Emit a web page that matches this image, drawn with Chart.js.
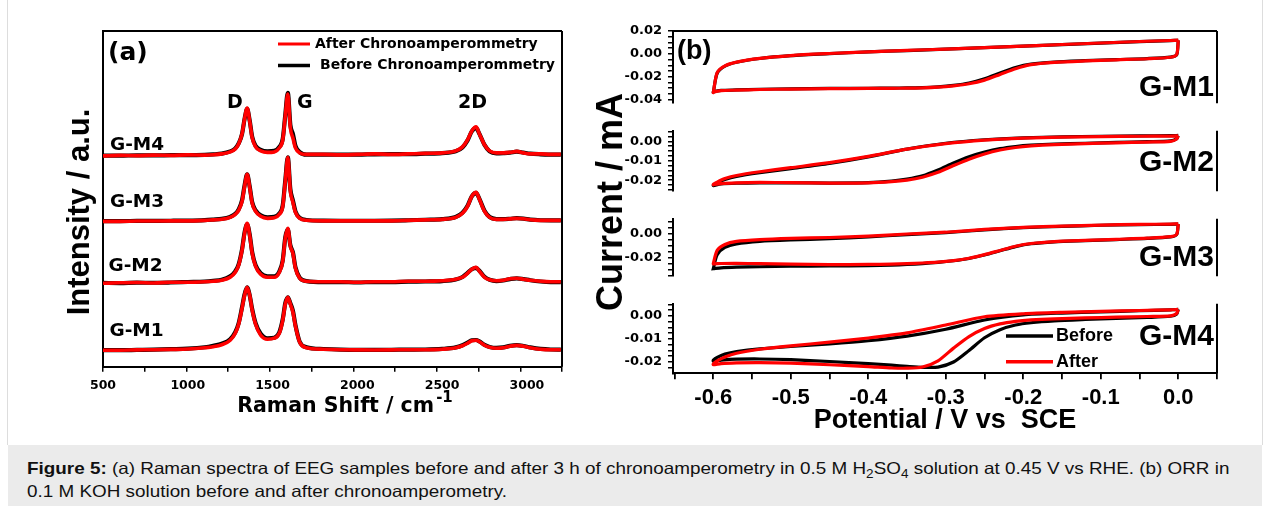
<!DOCTYPE html>
<html>
<head>
<meta charset="utf-8">
<script src="https://cdn.jsdelivr.net/npm/chart.js@4.4.0/dist/chart.umd.min.js"></script>
<style>
  html, body { margin: 0; padding: 0; background: #fff; }
  #fig { position: relative; width: 1270px; height: 506px; overflow: hidden; font-family: 'Liberation Sans', Arial, sans-serif; }
  #fig canvas { position: absolute; }
  #frame { position: absolute; left: 7px; top: 0; width: 1254px; height: 445px; border-left: 1px solid #ddd; border-right: 1px solid #ddd; }
  #ylabB { position: absolute; left: 610px; top: 202px; transform: translate(-50%, -50%) rotate(-90deg); font-weight: bold; font-size: 36px; line-height: 1; white-space: nowrap; color: #000; }
  #caption { position: absolute; left: 8px; top: 445px; width: 1254px; height: 70px; background: #ebebeb; }
  .capline { position: absolute; left: 19px; white-space: nowrap; font-size: 16.5px; line-height: 20px; color: #111; transform-origin: 0 50%; }
  .capline sub { font-size: 0.72em; line-height: 0; }
</style>
</head>
<body>
<div id="fig">
  <div id="frame"></div>
  <canvas id="ramanChart" width="590" height="440" style="left:0;top:0"></canvas>
  <canvas id="cv1" width="650" height="117" style="left:590px;top:0"></canvas>
  <canvas id="cv2" width="650" height="88" style="left:590px;top:117px"></canvas>
  <canvas id="cv3" width="650" height="85" style="left:590px;top:205px"></canvas>
  <canvas id="cv4" width="650" height="150" style="left:590px;top:290px"></canvas>
  <div id="ylabB">Current / mA</div>
  <div id="caption">
    <div class="capline" id="cap1" style="top:13px"><b>Figure 5:</b> (a) Raman spectra of EEG samples before and after 3 h of chronoamperometry in 0.5 M H<sub>2</sub>SO<sub>4</sub> solution at 0.45 V vs RHE. (b) ORR in</div>
    <div class="capline" id="cap2" style="top:36px">0.1 M KOH solution before and after chronoamperometry.</div>
  </div>
</div>

<script>
// ---------- Raman data (panel a), intensity above each trace's baseline ----------
const ramanShift = [500, 600, 700, 800, 900, 1000, 1100, 1150, 1200, 1250, 1280, 1300, 1320, 1335, 1350, 1365, 1380, 1400, 1430, 1470,
    1510, 1540, 1560, 1575, 1590, 1605, 1620, 1635, 1660, 1700, 1800, 1900, 2000, 2100, 2200, 2300, 2400, 2500, 2580, 2620,
    2650, 2675, 2700, 2720, 2750, 2780, 2820, 2860, 2900, 2940, 2980, 3020, 3080, 3140, 3200];

// tick labels of the Raman shift axis
const ramanTickLabels = [500, 1000, 1500, 2000, 2500, 3000];

const gm1RamanAfter = [0, 0, 0.3, 0.5, 0.8, 1.2, 2.5, 3.5, 5.5, 10, 17, 26, 42, 55, 63, 55, 40, 26, 15, 11,
    12, 17, 30, 46, 53, 46, 38, 24, 8, 2.5, 1, 0.5, 0.3, 0.2, 0.3, 0.5, 0.5, 1, 2.5, 4.5,
    7, 9.5, 10, 8.5, 5, 3, 2, 2.5, 4, 4.8, 4, 2.5, 1, 0.5, 0.5];
const gm1RamanBefore = [0, 0, 0.3, 0.6, 1, 1.5, 3, 4.5, 6.5, 11, 18, 27, 43, 56, 63, 55, 41, 27, 16.5, 12,
    12.5, 18, 31, 47, 53, 47, 39.5, 25, 8.5, 3, 1.2, 0.6, 0.4, 0.3, 0.4, 0.6, 0.7, 1.3, 2.8, 5,
    7.5, 10, 10.2, 8.8, 5.3, 3.3, 2.3, 2.8, 4.3, 5, 4.2, 2.8, 1.3, 0.7, 0.6];

const gm2RamanAfter = [0, 0.5, 0.8, 0.3, 1, 1, 1.5, 2, 3, 6, 11, 18, 33, 50, 60, 48, 30, 17, 9, 6,
    6, 11, 22, 45, 55, 37, 30, 15, 5, 2, 1.5, 1.5, 1, 1.5, 1.5, 2, 2, 2.5, 4, 6,
    10, 14, 16, 12, 6, 3.5, 2.5, 3, 4.5, 5, 4, 3, 2, 1.5, 1.5];
const gm2RamanBefore = [0.3, 0.2, 0.6, 0.5, 0.8, 1.3, 1.8, 2.5, 3.5, 7, 12, 19, 34, 51, 59, 49, 31, 18, 10, 7,
    7, 12, 23, 46, 54, 38, 31, 16, 5.5, 2.2, 1.2, 1.2, 0.8, 1.2, 1.2, 1.6, 1.8, 2.2, 3.8, 6.3,
    10.5, 14, 15.5, 12.5, 6.5, 3.5, 2.2, 2.8, 4.2, 5, 4.2, 3, 1.8, 1.2, 1.2];

const gm3RamanAfter = [0, 0, 0.3, 0.3, 0.5, 0.5, 1, 1.5, 2, 4, 7, 11, 20, 35, 47, 34, 18, 10, 5, 3,
    3.5, 7, 15, 40, 64, 30, 19, 9, 3, 1, 0.5, 0.5, 0.5, 0.5, 0.5, 1, 1.5, 2, 4, 8,
    15, 25, 29, 22, 10, 4, 2, 2, 2.5, 3, 2.5, 1.5, 1, 1, 1];
const gm3RamanBefore = [0.2, 0.2, 0.4, 0.5, 0.6, 0.8, 1.3, 1.8, 2.4, 4.5, 7.5, 12, 21, 36, 47, 35, 19, 11, 6, 4,
    4.5, 8, 16, 41, 64, 32, 21, 10, 3.5, 1.3, 0.7, 0.6, 0.6, 0.6, 0.7, 1.1, 1.6, 2.2, 4.3, 8.5,
    15.5, 25, 28.5, 22.5, 10.5, 4.3, 2.3, 2.2, 2.6, 3.2, 2.7, 1.7, 1.1, 1, 1];

const gm4RamanAfter = [0, 0.5, 0.3, 0.8, 0.5, 1, 0.8, 1.2, 2, 4, 7, 12, 22, 37, 48, 35, 18, 9, 5, 3.5,
    4, 8, 16, 40, 62, 28, 18, 8, 3, 1.5, 1.5, 1, 1.5, 2, 1.5, 2, 2.5, 3, 5, 9,
    16, 25, 29, 22, 11, 5, 3, 3, 3.5, 4.5, 3, 2, 2, 1.5, 1.5];
const gm4RamanBefore = [0.3, 0.2, 0.6, 0.5, 0.7, 0.8, 1, 1.5, 2.3, 4.5, 7.5, 12.5, 22, 37, 47, 35.5, 19, 10, 6, 4.5,
    5, 9, 17, 41, 63, 31, 22, 10, 3.8, 1.2, 1.2, 1.3, 1.2, 1.6, 1.8, 1.7, 2.2, 2.8, 4.6, 8.5,
    15.5, 24.5, 28, 22, 11, 4.6, 2.6, 2.8, 3.2, 4.2, 3.2, 2.2, 1.6, 1.3, 1.2];

// vertical stacking offset of each spectrum
const ramanNames = ['G-M1', 'G-M2', 'G-M3', 'G-M4'];
const ramanOffsets = [16.5, 83.5, 145.5, 211];

// ---------- CV data (panel b): one potential path, current per sample ----------
const cvPotential = [0.000, -0.010, -0.050, -0.100, -0.150, -0.200, -0.250, -0.300, -0.350, -0.400, -0.450, -0.500, -0.540, -0.570, -0.585, -0.595, -0.600,
    -0.600, -0.590, -0.570, -0.540, -0.500, -0.450, -0.400, -0.370, -0.350, -0.330, -0.310, -0.290, -0.270, -0.250, -0.230, -0.210, -0.190, -0.160, -0.120, -0.080, -0.040, -0.010, -0.002, 0.000];

const gm1CvAfter = [0.0120, 0.0117, 0.0108, 0.0095, 0.0082, 0.0068, 0.0055, 0.0042, 0.0030, 0.0018, 0.0003, -0.0015, -0.0040, -0.0072, -0.0105, -0.0165, -0.0340,
    -0.0335, -0.0322, -0.0318, -0.0312, -0.0308, -0.0305, -0.0303, -0.0302, -0.0300, -0.0298, -0.0292, -0.0280, -0.0262, -0.0230, -0.0180, -0.0130, -0.0095, -0.0075, -0.0062, -0.0052, -0.0043, -0.0030, -0.0005, 0.0120];
const gm1CvBefore = [0.0119, 0.0116, 0.0107, 0.0094, 0.0081, 0.0067, 0.0054, 0.0041, 0.0029, 0.0017, 0.0002, -0.0016, -0.0041, -0.0074, -0.0108, -0.0170, -0.0338,
    -0.0333, -0.0320, -0.0316, -0.0310, -0.0306, -0.0303, -0.0301, -0.0300, -0.0298, -0.0296, -0.0289, -0.0276, -0.0255, -0.0218, -0.0168, -0.0120, -0.0090, -0.0072, -0.0060, -0.0050, -0.0041, -0.0028, -0.0008, 0.0119];

const gm2CvAfter = [0.0028, 0.0027, 0.0026, 0.0024, 0.0021, 0.0016, 0.0006, -0.0012, -0.0040, -0.0078, -0.0110, -0.0136, -0.0157, -0.0176, -0.0192, -0.0210, -0.0222,
    -0.0224, -0.0218, -0.0214, -0.0212, -0.0213, -0.0215, -0.0214, -0.0208, -0.0200, -0.0185, -0.0160, -0.0125, -0.0092, -0.0065, -0.0045, -0.0032, -0.0024, -0.0017, -0.0012, -0.0008, -0.0004, 0.0000, 0.0012, 0.0028];
const gm2CvBefore = [0.0030, 0.0029, 0.0028, 0.0026, 0.0023, 0.0018, 0.0008, -0.0010, -0.0040, -0.0080, -0.0114, -0.0141, -0.0162, -0.0181, -0.0197, -0.0214, -0.0226,
    -0.0228, -0.0220, -0.0216, -0.0214, -0.0214, -0.0215, -0.0213, -0.0205, -0.0195, -0.0178, -0.0148, -0.0112, -0.0080, -0.0056, -0.0038, -0.0027, -0.0020, -0.0014, -0.0010, -0.0006, -0.0002, 0.0002, 0.0014, 0.0030];

const gm3CvAfter = [0.0082, 0.0080, 0.0077, 0.0072, 0.0063, 0.0052, 0.0035, 0.0012, -0.0003, -0.0020, -0.0032, -0.0040, -0.0050, -0.0065, -0.0090, -0.0140, -0.0250,
    -0.0252, -0.0249, -0.0248, -0.0250, -0.0254, -0.0258, -0.0257, -0.0254, -0.0250, -0.0245, -0.0238, -0.0225, -0.0205, -0.0175, -0.0140, -0.0105, -0.0082, -0.0066, -0.0056, -0.0047, -0.0038, -0.0025, -0.0005, 0.0082];
const gm3CvBefore = [0.0080, 0.0078, 0.0075, 0.0070, 0.0060, 0.0050, 0.0032, 0.0008, -0.0008, -0.0027, -0.0042, -0.0052, -0.0064, -0.0085, -0.0115, -0.0175, -0.0292,
    -0.0292, -0.0285, -0.0280, -0.0276, -0.0272, -0.0270, -0.0268, -0.0263, -0.0257, -0.0250, -0.0240, -0.0226, -0.0207, -0.0178, -0.0143, -0.0108, -0.0084, -0.0068, -0.0058, -0.0049, -0.0040, -0.0027, -0.0007, 0.0080];

const gm4CvAfter = [0.0028, 0.0026, 0.0023, 0.0019, 0.0015, 0.0009, -0.0004, -0.0040, -0.0074, -0.0096, -0.0114, -0.0130, -0.0145, -0.0162, -0.0178, -0.0195, -0.0208,
    -0.0212, -0.0207, -0.0204, -0.0203, -0.0205, -0.0212, -0.0220, -0.0226, -0.0227, -0.0222, -0.0195, -0.0140, -0.0090, -0.0055, -0.0035, -0.0024, -0.0018, -0.0013, -0.0009, -0.0006, -0.0003, 0.0000, 0.0010, 0.0028];
const gm4CvBefore = [0.0028, 0.0026, 0.0022, 0.0017, 0.0012, 0.0004, -0.0018, -0.0058, -0.0088, -0.0108, -0.0122, -0.0133, -0.0143, -0.0155, -0.0166, -0.0180, -0.0192,
    -0.0196, -0.0192, -0.0188, -0.0187, -0.0190, -0.0198, -0.0207, -0.0214, -0.0219, -0.0223, -0.0222, -0.0200, -0.0150, -0.0095, -0.0060, -0.0040, -0.0030, -0.0022, -0.0016, -0.0011, -0.0007, -0.0002, 0.0008, 0.0028];

// ---------- styling ----------
const RED = '#ff0000';
const BLACK = '#000000';
const LIB = "'Liberation Sans', Arial, sans-serif";
const DEJ = "'DejaVu Sans', sans-serif";

Chart.defaults.font.family = LIB;
Chart.defaults.color = '#000';

// draws frame sides, legend keys, axis labels and free text on top of a chart
const figText = {
    id: 'figText',
    afterDraw(chart, args, opts) {
        const ctx = chart.ctx;
        const a = chart.chartArea;
        ctx.save();
        ctx.strokeStyle = '#000';
        ctx.lineWidth = 2;
        (opts.frame || []).forEach(side => {
            ctx.beginPath();
            if (side === 'top') { ctx.moveTo(a.left, a.top); ctx.lineTo(a.right, a.top); }
            if (side === 'right') { ctx.moveTo(a.right, a.top); ctx.lineTo(a.right, a.bottom); }
            ctx.stroke();
        });
        (opts.keys || []).forEach(k => {
            ctx.strokeStyle = k.color;
            ctx.lineWidth = k.width || 3;
            ctx.beginPath();
            ctx.moveTo(k.x1, k.y);
            ctx.lineTo(k.x2, k.y);
            ctx.stroke();
        });
        ctx.fillStyle = '#000';
        ctx.textBaseline = 'middle';
        if (opts.xLabels) {
            const xl = opts.xLabels;
            ctx.font = xl.font;
            ctx.textAlign = 'center';
            xl.values.forEach(v => {
                ctx.fillText(String(v), chart.scales.x.getPixelForValue(v), a.bottom + xl.dy);
            });
        }
        (opts.texts || []).forEach(t => {
            ctx.font = t.font;
            if (t.rotate) {
                ctx.save();
                ctx.translate(t.x, t.y);
                ctx.rotate(t.rotate);
                ctx.textAlign = 'center';
                ctx.fillText(t.text, 0, 0);
                ctx.restore();
                return;
            }
            if (t.sup) {
                const w = ctx.measureText(t.text).width;
                ctx.font = t.supFont;
                const ws = ctx.measureText(t.sup).width;
                const x0 = t.x - (w + t.supGap + ws) / 2;
                ctx.textAlign = 'left';
                ctx.font = t.font;
                ctx.fillText(t.text, x0, t.y);
                ctx.font = t.supFont;
                ctx.fillText(t.sup, x0 + w + t.supGap, t.y + t.supDy);
                return;
            }
            ctx.textAlign = t.align || 'left';
            ctx.fillText(t.text, t.x, t.y);
        });
        ctx.restore();
    }
};

// ---------- panel (a): Raman ----------
const ramanAfterSets = [gm1RamanAfter, gm2RamanAfter, gm3RamanAfter, gm4RamanAfter];
const ramanBeforeSets = [gm1RamanBefore, gm2RamanBefore, gm3RamanBefore, gm4RamanBefore];

const ramanDatasets = [];
ramanNames.forEach((name, s) => {
    ramanDatasets.push({
        label: name + ' after',
        data: ramanShift.map((x, i) => ({ x: x, y: ramanOffsets[s] + ramanAfterSets[s][i] })),
        borderColor: RED,
        borderWidth: 3.6,
        order: 0
    });
    ramanDatasets.push({
        label: name + ' before',
        data: ramanShift.map((x, i) => ({ x: x, y: ramanOffsets[s] + ramanBeforeSets[s][i] })),
        borderColor: BLACK,
        borderWidth: 4.2,
        order: 1
    });
});

new Chart(document.getElementById('ramanChart'), {
    type: 'scatter',
    data: { datasets: ramanDatasets },
    options: {
        responsive: false,
        animation: false,
        events: [],
        showLine: true,
        elements: {
            point: { radius: 0 },
            line: { cubicInterpolationMode: 'monotone', fill: false }
        },
        layout: { padding: { left: 0, top: 31, right: 28, bottom: 0 } },
        plugins: {
            legend: { display: false },
            tooltip: { enabled: false },
            figText: {
                frame: ['top', 'right'],
                xLabels: { values: ramanTickLabels, dy: 19.5, font: 'bold 12.5px ' + DEJ },
                keys: [
                    { x1: 278, x2: 310, y: 44, color: RED, width: 3 },
                    { x1: 278, x2: 310, y: 65.5, color: BLACK, width: 3.5 }
                ],
                texts: [
                    { text: '(a)', x: 108, y: 53, font: 'bold 25px ' + DEJ },
                    { text: 'After Chronoamperommetry', x: 315, y: 44, font: 'bold 14px ' + DEJ },
                    { text: 'Before Chronoamperommetry', x: 320, y: 65.5, font: 'bold 14px ' + DEJ },
                    { text: 'D', x: 227, y: 103, font: 'bold 19px ' + DEJ },
                    { text: 'G', x: 297, y: 103, font: 'bold 19px ' + DEJ },
                    { text: '2D', x: 458, y: 103, font: 'bold 19px ' + DEJ },
                    { text: 'G-M4', x: 110, y: 145, font: 'bold 18.5px ' + DEJ },
                    { text: 'G-M3', x: 110, y: 202.5, font: 'bold 18.5px ' + DEJ },
                    { text: 'G-M2', x: 108.5, y: 266.5, font: 'bold 18.5px ' + DEJ },
                    { text: 'G-M1', x: 109.5, y: 331.5, font: 'bold 18.5px ' + DEJ },
                    { text: 'Intensity / a.u.', x: 80.5, y: 212, rotate: -Math.PI / 2, font: 'bold 31px ' + LIB },
                    { text: 'Raman Shift / cm', sup: '-1', x: 345, y: 407, font: 'bold 20.5px ' + DEJ,
                      supFont: 'bold 15px ' + DEJ, supGap: 2, supDy: -9 }
                ]
            }
        },
        scales: {
            x: {
                type: 'linear',
                min: 500,
                max: 3207,
                afterFit: s => { s.height = 73.3; },
                grid: { display: true, drawOnChartArea: false, drawTicks: true, tickLength: 5, color: '#000', lineWidth: 1.5 },
                border: { display: true, color: '#000', width: 2 },
                ticks: {
                    stepSize: 250,
                    includeBounds: false,
                    autoSkip: false,
                    maxRotation: 0,
                    display: false
                }
            },
            y: {
                type: 'linear',
                min: 0,
                max: 336,
                afterFit: s => { s.width = 103; },
                grid: { display: false },
                border: { display: true, color: '#000', width: 2 },
                ticks: { display: false }
            }
        }
    },
    plugins: [figText]
});

// ---------- panel (b): four stacked CV plots ----------
const cvPanels = [
    { id: 'cv1', name: 'G-M1', after: gm1CvAfter, before: gm1CvBefore, min: -0.0432, max: 0.02, step: 0.005, every: 4, padTop: 31, padBottom: 2, nameY: 87.7 },
    { id: 'cv2', name: 'G-M2', after: gm2CvAfter, before: gm2CvBefore, min: -0.0257, max: 0.0054, step: 0.0025, every: 4, padTop: 2.5, padBottom: 2.5, nameY: 46 },
    { id: 'cv3', name: 'G-M3', after: gm3CvAfter, before: gm3CvBefore, min: -0.0355, max: 0.0124, step: 0.005, every: 4, padTop: 1.7, padBottom: 2, nameY: 52.7 },
    { id: 'cv4', name: 'G-M4', after: gm4CvAfter, before: gm4CvBefore, min: -0.0249, max: 0.0052, step: 0.0025, every: 4, padTop: 2.7, padBottom: 0, nameY: 46.7 }
];

cvPanels.forEach((p, k) => {
    const last = k === cvPanels.length - 1;
    const texts = [{ text: p.name, x: 624, y: p.nameY, align: 'right', font: 'bold 30px ' + LIB }];
    const keys = [];
    if (k === 0) {
        texts.push({ text: '(b)', x: 87, y: 51.7, font: 'bold 27px ' + LIB });
    }
    if (last) {
        keys.push({ x1: 416, x2: 463, y: 46, color: BLACK, width: 3.5 });
        keys.push({ x1: 416, x2: 463, y: 71.7, color: RED, width: 3.5 });
        texts.push({ text: 'Before', x: 466, y: 46, font: 'bold 18px ' + LIB });
        texts.push({ text: 'After', x: 466, y: 71.7, font: 'bold 18px ' + LIB });
    }

    new Chart(document.getElementById(p.id), {
        type: 'scatter',
        data: {
            datasets: [
                {
                    label: 'After',
                    data: cvPotential.map((v, i) => ({ x: v, y: p.after[i] })),
                    borderColor: RED,
                    borderWidth: 3.2,
                    order: 0
                },
                {
                    label: 'Before',
                    data: cvPotential.map((v, i) => ({ x: v, y: p.before[i] })),
                    borderColor: BLACK,
                    borderWidth: 3.2,
                    order: 1
                }
            ]
        },
        options: {
            responsive: false,
            animation: false,
            events: [],
            showLine: true,
            elements: {
                point: { radius: 0 },
                line: { tension: 0.25, fill: false }
            },
            layout: { padding: { left: 0, top: p.padTop, right: 23, bottom: p.padBottom } },
            plugins: {
                legend: { display: false },
                tooltip: { enabled: false },
                figText: { frame: k === 0 ? ['top', 'right'] : ['right'], keys: keys, texts: texts }
            },
            scales: {
                x: {
                    type: 'linear',
                    min: -0.652,
                    max: 0.05,
                    display: last,
                    afterFit: s => { if (last) s.height = 66.7; },
                    grid: { display: true, drawOnChartArea: false, drawTicks: true, tickLength: 6, color: '#000', lineWidth: 1.8 },
                    border: { display: true, color: '#000', width: 2 },
                    ticks: {
                        stepSize: 0.05,
                        includeBounds: false,
                        autoSkip: false,
                        maxRotation: 0,
                        padding: 5,
                        color: '#000',
                        font: { family: LIB, size: 22, weight: 'bold' },
                        callback: v => (Math.round(v * 20) % 2 === 0 ? (Math.round(v * 10) / 10).toFixed(1) : '')
                    },
                    title: {
                        display: last,
                        text: 'Potential / V vs  SCE',
                        color: '#000',
                        font: { family: LIB, size: 27, weight: 'bold' },
                        padding: { top: 0, bottom: 3 }
                    }
                },
                y: {
                    type: 'linear',
                    min: p.min,
                    max: p.max,
                    afterFit: s => { s.width = 83; },
                    grid: { display: true, drawOnChartArea: false, drawTicks: true, tickLength: 5, color: '#000', lineWidth: 1.5 },
                    border: { display: true, color: '#000', width: 2 },
                    ticks: {
                        stepSize: p.step,
                        includeBounds: false,
                        autoSkip: false,
                        padding: 6,
                        color: '#000',
                        font: { family: DEJ, size: 13, weight: 'bold' },
                        callback: v => (Math.round(v / p.step) % p.every === 0 ? v.toFixed(2) : '')
                    }
                }
            }
        },
        plugins: [figText]
    });
});

// stretch caption lines so the first one ends where the original does
function fitCaption() {
    const c1 = document.getElementById('cap1');
    const c2 = document.getElementById('cap2');
    c1.style.transform = 'none';
    c2.style.transform = 'none';
    const k = 1202 / c1.offsetWidth;
    c1.style.transform = 'scaleX(' + k + ')';
    c2.style.transform = 'scaleX(' + k + ')';
}
fitCaption();
if (document.fonts && document.fonts.ready) document.fonts.ready.then(fitCaption);
</script>
</body>
</html>
